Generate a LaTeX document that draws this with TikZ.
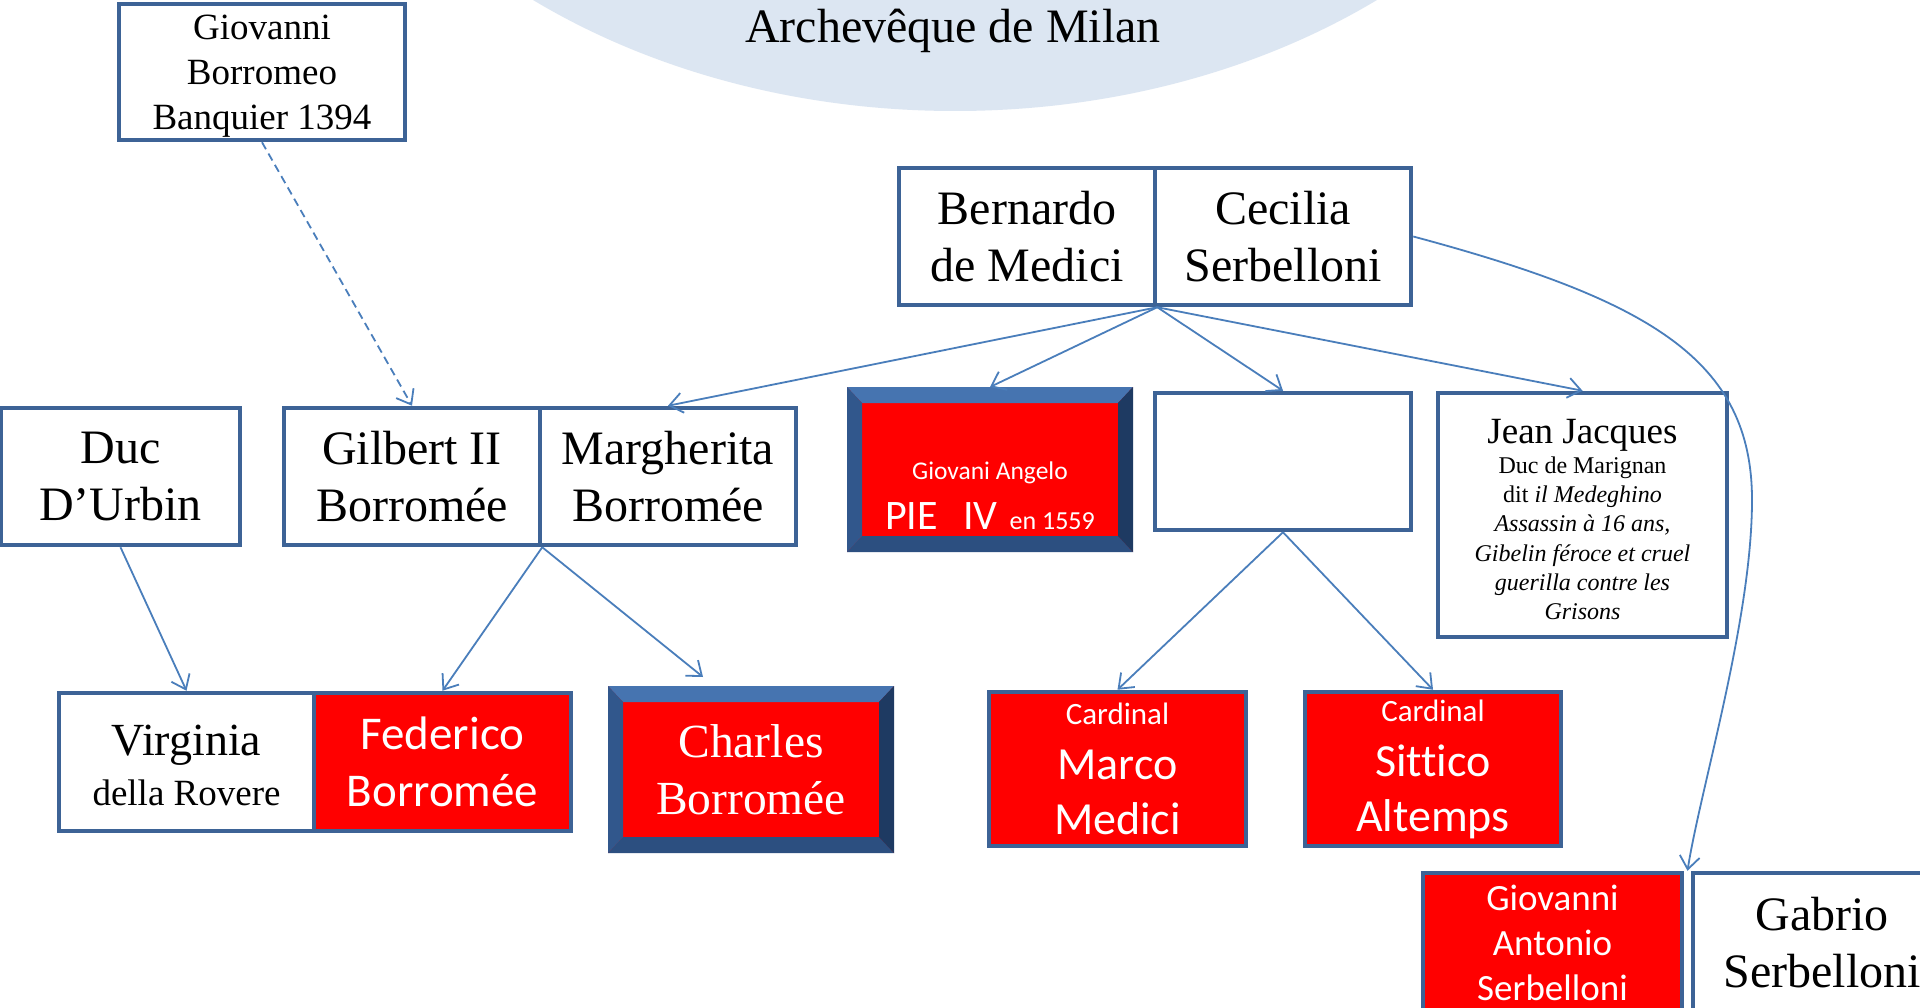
\documentclass[tikz,border=0pt]{standalone}
\usepackage{fontspec}
\setmainfont{Liberation Serif}
\newfontfamily\calibri[Ligatures=NoCommon]{Carlito}
\usetikzlibrary{arrows.meta,calc}
\definecolor{boxblue}{HTML}{3D6396}
\definecolor{linkblue}{HTML}{4A7EBB}
\definecolor{ellfill}{HTML}{DCE6F2}
\definecolor{pptred}{HTML}{FF0000}
\definecolor{bevtop}{HTML}{4674B0}
\definecolor{bevleft}{HTML}{31578C}
\definecolor{bevright}{HTML}{1E3A62}
\definecolor{bevbot}{HTML}{2C4F80}
\tikzset{
  box/.style={draw=boxblue, line width=4.5pt, fill=white, inner sep=0pt, align=center,
    text=black, minimum width=256pt, minimum height=137pt},
  redbox/.style={box, fill=pptred, text=white},
  bevelbox/.style={fill=pptred, inner sep=0pt, outer sep=0pt, align=center, text=white},
  serifbig/.style={font=\fontsize{48}{57}\selectfont},
  calbig/.style={font=\calibri\fontsize{47}{57}\selectfont},
  link/.style={draw=linkblue, line width=1.8pt,
    -{Straight Barb[length=13pt,width=20pt,line width=1.8pt]}},
  dashlink/.style={link, dash pattern=on 8pt off 5pt}
}
\newcommand{\bevelframe}[1]{%
  \fill[bevtop] (#1.north west) -- (#1.north east) -- ($(#1.north east)+(-15,16)$) -- ($(#1.north west)+(15,16)$) -- cycle;
  \fill[bevbot] (#1.south west) -- (#1.south east) -- ($(#1.south east)+(-15,-16)$) -- ($(#1.south west)+(15,-16)$) -- cycle;
  \fill[bevleft] (#1.north west) -- ($(#1.north west)+(15,16)$) -- ($(#1.south west)+(15,-16)$) -- (#1.south west) -- cycle;
  \fill[bevright] (#1.north east) -- ($(#1.north east)+(-15,16)$) -- ($(#1.south east)+(-15,-16)$) -- (#1.south east) -- cycle;
}
\begin{document}
\begin{tikzpicture}[x=1pt,y=-1pt]
\useasboundingbox (0,0) rectangle (1920,1008);
\clip (0,0) rectangle (1920,1008);
\fill[white] (0,0) rectangle (1920,1008);

% ellipse
\fill[ellfill] (955,-400) ellipse [x radius=678, y radius=511];
\node[serifbig, inner sep=0pt] (title) at (953,31) {Archevêque de Milan};

% top row
\node[box, minimum width=286pt, minimum height=136pt, font=\fontsize{37}{45}\selectfont] (gio) at (262,72)
  {\rule{0pt}{33pt}Giovanni\\Borromeo\\Banquier 1394};
\node[box, serifbig] (bern) at (1027,236.5) {Bernardo\\de Medici};
\node[box, serifbig] (cec) at (1283,236.5) {Cecilia\\Serbelloni};

% second row
\node[box, serifbig, minimum width=239pt] (duc) at (120.5,476.5) {Duc\\D’Urbin};
\node[box, serifbig] (gil) at (412,476.5) {Gilbert II\\Borromée};
\node[box, serifbig] (mar) at (668,476.5) {Margherita\\Borromée};

\node[bevelbox, minimum width=286pt, minimum height=165pt] (pie) at (990,469.5) {};
\bevelframe{pie}
\node[text=white, align=center, inner sep=0pt, font=\calibri\fontsize{26}{50}\selectfont] (pietext) at (990,496)
  {{\fontsize{25.5}{50}\selectfont Giovani Angelo}\\{\fontsize{42}{50}\selectfont PIE\hspace{0.6em}IV}\hspace{12pt}en 1559};

\node[box] (empty) at (1283,461.5) {};
\node[box, minimum width=289pt, minimum height=244pt, font=\fontsize{24}{29.2}\selectfont] (jj) at (1582.5,515)
  {\rule{0pt}{33pt}{\fontsize{37}{44}\selectfont Jean Jacques}\\[1pt]
   Duc de Marignan\\
   dit \textit{il Medeghino}\\
   \textit{Assassin à 16 ans,}\\
   \textit{Gibelin féroce et cruel}\\
   \textit{guerilla contre les}\\
   \textit{Grisons}};

% third row
\node[box, minimum width=255pt, minimum height=138pt, font=\fontsize{37}{50}\selectfont] (vir) at (186.5,762)
  {\rule{0pt}{38pt}{\fontsize{46}{50}\selectfont Virginia}\\della Rovere};
\node[redbox, calbig, minimum width=257pt, minimum height=138pt] (fed) at (442.5,762) {Federico\\Borromée};

\node[bevelbox, minimum width=286pt, minimum height=167pt, font=\fontsize{47.5}{57}\selectfont] (cha) at (751,769.5) {Charles\\Borromée};
\bevelframe{cha}

\node[redbox, minimum width=257pt, minimum height=154pt, font=\calibri\fontsize{46}{55}\selectfont] (mco) at (1117.5,769)
  {{\fontsize{31}{55}\selectfont Cardinal}\\Marco\\Medici};
\node[redbox, minimum width=256pt, minimum height=154pt, font=\calibri\fontsize{46}{55}\selectfont] (sit) at (1433,769)
  {{\fontsize{31}{55}\selectfont Cardinal}\\Sittico\\Altemps};

% bottom row
\node[redbox, minimum width=259pt, minimum height=140pt, font=\calibri\fontsize{37}{45}\selectfont] (gas) at (1552.5,943)
  {Giovanni\\Antonio\\Serbelloni};
\node[box, serifbig, minimum width=258pt, minimum height=140pt] (gab) at (1822,943) {Gabrio\\Serbelloni};

\coordinate (chain) at (703,677);
\coordinate (gasgab) at ($(gas.north east)!0.5!(gab.north west)$);

% connectors
\draw[dashlink] (gio.south) -- (gil.north);
\draw[link] (bern.south east) -- (mar.north);
\draw[link] (bern.south east) -- (pie.north);
\draw[link] (bern.south east) -- (empty.north);
\draw[link] (bern.south east) -- (jj.north);
\draw[link] (cec.east) .. controls (1650,300) and (1752,360) .. (1752,500)
  .. controls (1752,620) and (1700,790) .. (gasgab);
\draw[link] (duc.south) -- (vir.north);
\draw[link] (gil.south east) -- (fed.north);
\draw[link] (gil.south east) -- (chain);
\draw[link] (empty.south) -- (mco.north);
\draw[link] (empty.south) -- (sit.north);
\end{tikzpicture}
\end{document}
